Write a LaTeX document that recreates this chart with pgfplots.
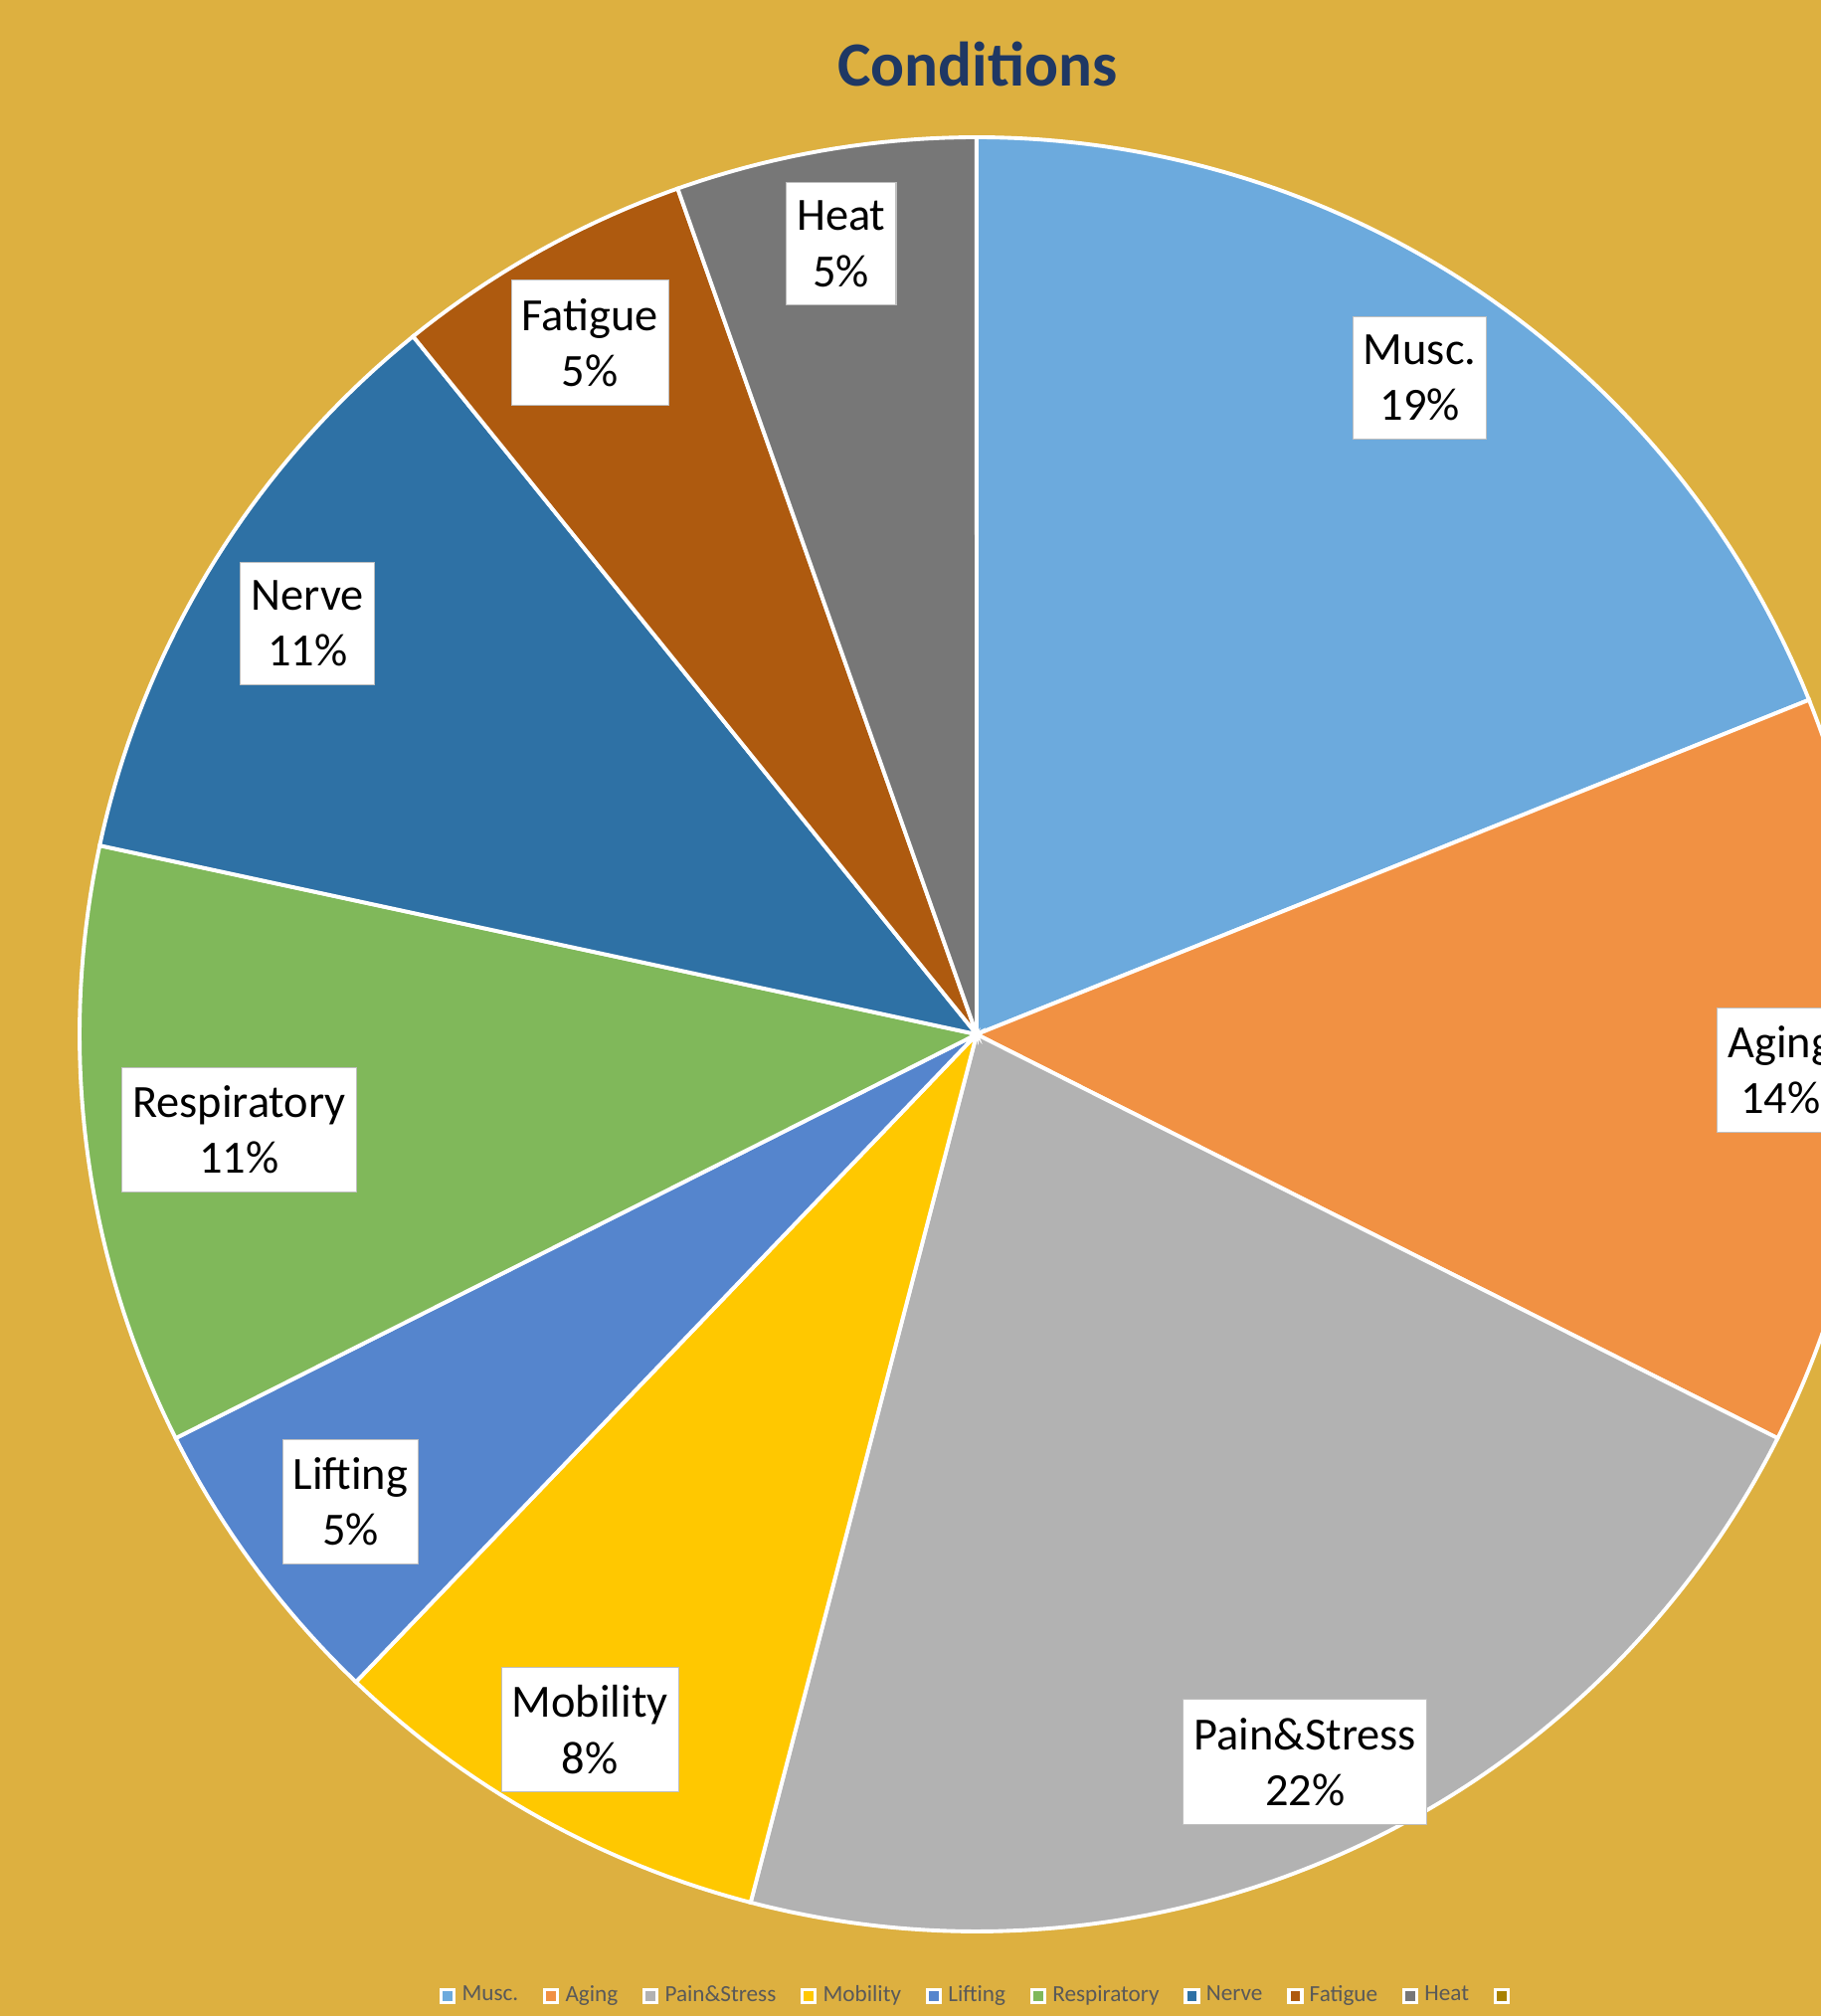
\documentclass[border=0pt]{standalone}
\usepackage{pgfplots}
\pgfplotsset{compat=1.18}
\usepackage{fontspec}
\setmainfont{Carlito}
\definecolor{bg}{HTML}{DDB040}
\definecolor{cMusc}{HTML}{6CAADD}
\definecolor{cAging}{HTML}{F19143}
\definecolor{cPain}{HTML}{B2B2B2}
\definecolor{cMob}{HTML}{FFC800}
\definecolor{cLift}{HTML}{5585CD}
\definecolor{cResp}{HTML}{80B85A}
\definecolor{cNerve}{HTML}{2E71A5}
\definecolor{cFat}{HTML}{AE5A0F}
\definecolor{cHeat}{HTML}{777777}
\definecolor{cEmpty}{HTML}{A88100}
\definecolor{titleblue}{HTML}{1F3864}
\definecolor{legtext}{HTML}{595959}
\begin{document}
\begin{tikzpicture}
\useasboundingbox (0,0) rectangle (18.31,20.27);
\clip (0,0) rectangle (18.31,20.27);
\fill[bg] (0,0) rectangle (18.31,20.27);
\node[anchor=base, font=\fontsize{18}{22}\selectfont\bfseries, text=titleblue] at (9.83,19.40) {Conditions};
% counts: Musc 7, Aging 5, Pain&Stress 8, Mobility 3, Lifting 2, Respiratory 4, Nerve 4, Fatigue 2, Heat 2 (total 37)
\begin{axis}[
  at={(9.82cm,9.87cm)}, anchor=center,
  x=9.02cm, y=9.02cm,
  xmin=-1, xmax=1, ymin=-1, ymax=1,
  hide axis, clip=false,
  every axis plot/.append style={draw=white, line width=1.1pt, samples=120},
  legend columns=10,
  legend image code/.code={\draw[#1, draw=white, line width=1pt] (0cm,-0.065cm) rectangle (0.13cm,0.065cm);},
  legend style={draw=none, fill=none, text=legtext,
    font=\fontsize{6.6}{7.5}\selectfont,
    at={(0.5012,-0.036)}, anchor=center,
    nodes={inner sep=0.6pt},
    /tikz/every odd column/.append style={column sep=0.04cm},
    /tikz/every even column/.append style={column sep=0.225cm}},
]
\addplot[fill=cMusc,  domain={90-360*7/37}:{90-360*0/37}]  ({cos(x)},{sin(x)}) -- (axis cs:0,0) -- cycle;
\addlegendentry{Musc.}
\addplot[fill=cAging, domain={90-360*12/37}:{90-360*7/37}] ({cos(x)},{sin(x)}) -- (axis cs:0,0) -- cycle;
\addlegendentry{Aging}
\addplot[fill=cPain,  domain={90-360*20/37}:{90-360*12/37}] ({cos(x)},{sin(x)}) -- (axis cs:0,0) -- cycle;
\addlegendentry{Pain\&Stress}
\addplot[fill=cMob,   domain={90-360*23/37}:{90-360*20/37}] ({cos(x)},{sin(x)}) -- (axis cs:0,0) -- cycle;
\addlegendentry{Mobility}
\addplot[fill=cLift,  domain={90-360*25/37}:{90-360*23/37}] ({cos(x)},{sin(x)}) -- (axis cs:0,0) -- cycle;
\addlegendentry{Lifting}
\addplot[fill=cResp,  domain={90-360*29/37}:{90-360*25/37}] ({cos(x)},{sin(x)}) -- (axis cs:0,0) -- cycle;
\addlegendentry{Respiratory}
\addplot[fill=cNerve, domain={90-360*33/37}:{90-360*29/37}] ({cos(x)},{sin(x)}) -- (axis cs:0,0) -- cycle;
\addlegendentry{Nerve}
\addplot[fill=cFat,   domain={90-360*35/37}:{90-360*33/37}] ({cos(x)},{sin(x)}) -- (axis cs:0,0) -- cycle;
\addlegendentry{Fatigue}
\addplot[fill=cHeat,  domain={90-360*37/37}:{90-360*35/37}] ({cos(x)},{sin(x)}) -- (axis cs:0,0) -- cycle;
\addlegendentry{Heat}
\addlegendimage{fill=cEmpty}
\addlegendentry{}
\begin{scope}[every node/.style={draw=black!25, line width=0.3pt, fill=white, align=center, inner xsep=3pt, inner ysep=5.2pt, font=\fontsize{13.2}{16}\selectfont}]
\node at (axis cs:0.494,0.732) {Musc.\\19\%};
\node at (axis cs:0.896,-0.040) {Aging\\14\%};
\node at (axis cs:0.366,-0.811) {Pain\&Stress\\22\%};
\node at (axis cs:-0.431,-0.775) {Mobility\\8\%};
\node at (axis cs:-0.698,-0.521) {Lifting\\5\%};
\node at (axis cs:-0.822,-0.106) {Respiratory\\11\%};
\node at (axis cs:-0.746,0.458) {Nerve\\11\%};
\node at (axis cs:-0.431,0.771) {Fatigue\\5\%};
\node at (axis cs:-0.151,0.881) {Heat\\5\%};
\end{scope}
\end{axis}
\end{tikzpicture}
\end{document}
